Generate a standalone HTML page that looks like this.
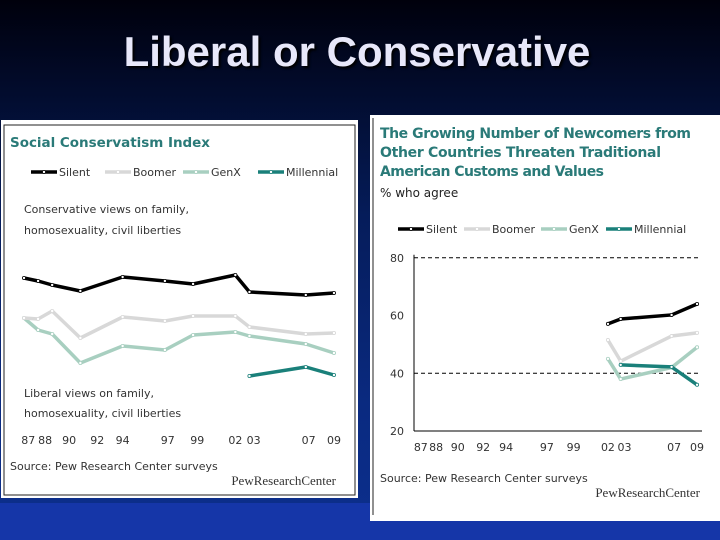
<!DOCTYPE html>
<html><head><meta charset="utf-8"><style>
html,body{margin:0;padding:0}
body{width:720px;height:540px;overflow:hidden;background:linear-gradient(#00000c 0%,#051c5a 40%,#0a2a80 75%,#0c2f8e 100%);font-family:"Liberation Sans",sans-serif;position:relative}
#title{position:absolute;left:0;width:714px;top:28px;text-align:center;font-size:42px;font-weight:bold;color:#e8e8fa;text-shadow:2px 2px 2px #000}
#band{position:absolute;left:0;top:503px;width:720px;height:37px;background:#1536a8}
svg text{font-family:"DejaVu Sans","Liberation Sans",sans-serif}
</style></head><body>
<div id="title">Liberal or Conservative</div>
<div id="band"></div>
<svg width="720" height="540" style="position:absolute;left:0;top:0" id="s">
<g>
<rect x="1" y="120" width="357" height="378" fill="#fff"/>
<rect x="4" y="125" width="351" height="370" fill="none" stroke="#222" stroke-width="1"/>
<text x="10" y="147" font-size="13.5" font-weight="bold" fill="#2a7a78" textLength="200">Social Conservatism Index</text>
<text x="24" y="213" font-size="11" fill="#333">Conservative views on family,</text>
<text x="24" y="234" font-size="11" fill="#333">homosexuality, civil liberties</text>
<text x="24" y="397" font-size="11" fill="#333">Liberal views on family,</text>
<text x="24" y="417" font-size="11" fill="#333">homosexuality, civil liberties</text>
<text x="10" y="470" font-size="11" fill="#333">Source: Pew Research Center surveys</text>
<text x="336" y="485" font-size="13" fill="#333" text-anchor="end" style="font-family:'Liberation Serif',serif">PewResearchCenter</text>
</g>
<g>
<rect x="370" y="115" width="350" height="406" fill="#fff"/>
<line x1="373" y1="118" x2="373" y2="515" stroke="#222"/>
<text x="380" y="138" font-size="14" font-weight="bold" fill="#2a7a78" textLength="311">The Growing Number of Newcomers from</text>
<text x="380" y="157" font-size="14" font-weight="bold" fill="#2a7a78" textLength="281">Other Countries Threaten Traditional</text>
<text x="380" y="176" font-size="14" font-weight="bold" fill="#2a7a78" textLength="224">American Customs and Values</text>
<text x="380" y="197" font-size="12" fill="#222">% who agree</text>
<text x="380" y="482" font-size="11" fill="#333">Source: Pew Research Center surveys</text>
<text x="700" y="497" font-size="13" fill="#333" text-anchor="end" style="font-family:'Liberation Serif',serif">PewResearchCenter</text>
</g>
<g id="L"></g><g id="R"></g>
</svg>
<script>
const years=[1987,1988,1989,1991,1994,1997,1999,2002,2003,2007,2009];
const leftSilent=[132,129,125,119,133,129,126,135,118,115,117];
const leftBoomer=[92,91,99,72,93,89,94,94,83,76,77];
const leftGenX=[92,80,76,47,64,60,75,78,74,66,57];
const leftMillYears=[2003,2007,2009];
const leftMill=[34,43,35];
const tickLabels=["87","88","90","92","94","97","99","02","03","07","09"];
const tickYears=[1987.3,1988.5,1990.2,1992.2,1994,1997.2,1999.3,2002,2003.3,2007.2,2009];
const rightYears=[2002,2003,2007,2009];
const rightSilent=[57.1,58.8,60.2,64];
const rightBoomer=[51.5,44.2,52.9,54];
const rightGenX=[45,38,42,49];
const rightMillYears=[2003,2007,2009];
const rightMill=[42.9,42.2,36];
const rightTicks=[20,40,60,80];
const NS="http://www.w3.org/2000/svg";
const names=["silent","boomer","genx","millennial"];
const labels=["Silent","Boomer","GenX","Millennial"];
const colors=["#000","#d8d8d8","#a8cfc0","#1a807a"];
function mk(t,a,p){const e=document.createElementNS(NS,t);for(const k in a)e.setAttribute(k,a[k]);p.appendChild(e);return e;}
function series(g,xs,ys,xf,yf,c,nm){
 const pts=xs.map((x,i)=>xf(x)+","+yf(ys[i])).join(" ");
 const pl=mk("polyline",{points:pts,fill:"none",stroke:c,"stroke-width":3.5,"stroke-linejoin":"round"},g);
 
 
 xs.forEach((x,i)=>{const d=mk("circle",{cx:xf(x),cy:yf(ys[i]),r:1.6,fill:"#fff",stroke:c,"stroke-width":0.8},g);
 
 });
}
function legend(g,x0,y,pos){
 names.forEach((n,i)=>{const x=pos[i];
 const l=mk("line",{x1:x,y1:y,x2:x+26,y2:y,stroke:colors[i],"stroke-width":3.5},g);
 
 
 mk("circle",{cx:x+13,cy:y,r:1.6,fill:"#fff",stroke:colors[i],"stroke-width":0.8},g);
 const t=mk("text",{x:x+28,y:y+4,"font-size":11,fill:"#333"},g);t.textContent=labels[i];
 
 });
}
const L=document.getElementById("L");
const lx=y=>24+(y-1987)*14.09, ly=v=>410-v;
legend(L,0,172,[31,105,183,258]);
series(L,years,leftGenX,lx,ly,colors[2],"left-genx");
series(L,years,leftBoomer,lx,ly,colors[1],"left-boomer");
series(L,years,leftSilent,lx,ly,colors[0],"left-silent");
series(L,leftMillYears,leftMill,lx,ly,colors[3],"left-millennial");
tickLabels.forEach((t,i)=>{const e=mk("text",{x:lx(tickYears[i]),y:444,"font-size":11,fill:"#333","text-anchor":"middle"},L);e.textContent=t;
 
 });
const R=document.getElementById("R");
const rx=y=>417+(y-1987)*12.73, ry=v=>431-(v-20)*2.887;
legend(R,0,229,[398,464,541,606]);
const ax=mk("line",{x1:414,y1:ry(80)-3,x2:414,y2:431,stroke:"#000","stroke-width":1},R);


const bx=mk("line",{x1:414,y1:431,x2:702,y2:431,stroke:"#000","stroke-width":1},R);


[40,80].forEach(v=>{const g=mk("line",{x1:414,y1:ry(v),x2:700,y2:ry(v),stroke:"#000","stroke-dasharray":"4,3","stroke-width":1},R);
 
 });
rightTicks.forEach(v=>{const t=mk("text",{x:404,y:ry(v)+4,"font-size":11,fill:"#333","text-anchor":"end"},R);t.textContent=v;
 
 });
series(R,rightYears,rightGenX,rx,ry,colors[2],"right-genx");
series(R,rightYears,rightBoomer,rx,ry,colors[1],"right-boomer");
series(R,rightMillYears,rightMill,rx,ry,colors[3],"right-millennial");
series(R,rightYears,rightSilent,rx,ry,colors[0],"right-silent");
tickLabels.forEach((t,i)=>{const e=mk("text",{x:rx(tickYears[i]),y:451,"font-size":11,fill:"#333","text-anchor":"middle"},R);e.textContent=t;
 
 });
</script>
</body></html>
